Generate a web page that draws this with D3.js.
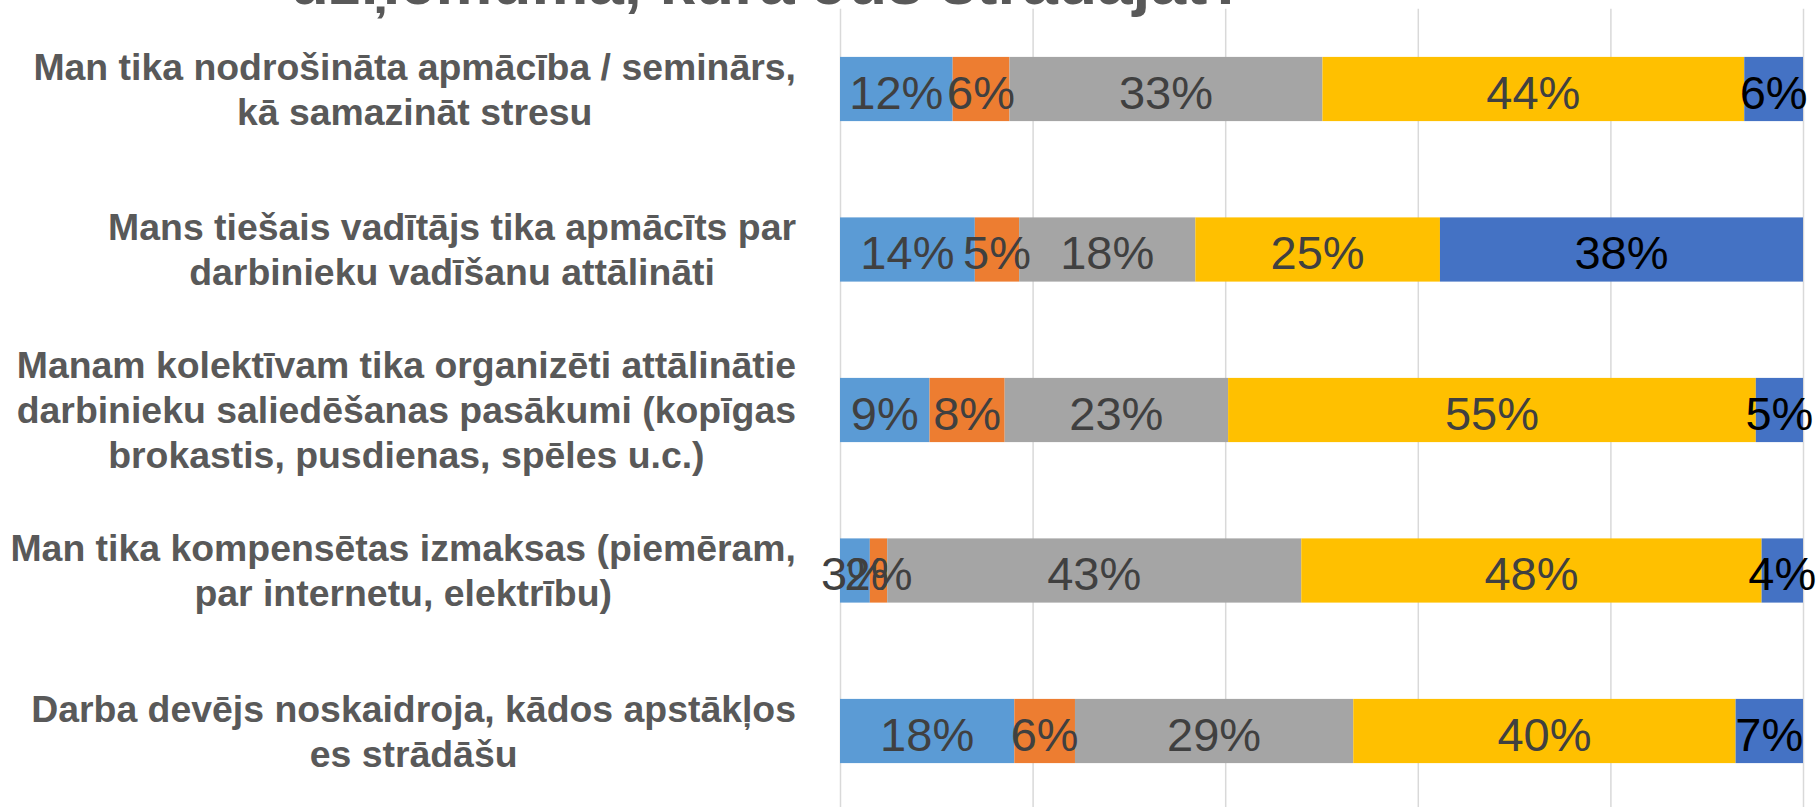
<!DOCTYPE html>
<html>
<head>
<meta charset="utf-8">
<script src="https://cdn.jsdelivr.net/npm/d3@7"></script>
<style>
  body { margin: 0; background: #fff; }
  svg { display: block; font-family: "Liberation Sans", Arial, sans-serif; }
</style>
</head>
<body>
<svg width="1820" height="807"></svg>
<script>

var categories = [
  ["Man tika nodrošināta apmācība / seminārs,", "kā samazināt stresu"],
  ["Mans tiešais vadītājs tika apmācīts par", "darbinieku vadīšanu attālināti"],
  ["Manam kolektīvam tika organizēti attālinātie", "darbinieku saliedēšanas pasākumi (kopīgas", "brokastis, pusdienas, spēles u.c.)"],
  ["Man tika kompensētas izmaksas (piemēram,", "par internetu, elektrību)"],
  ["Darba devējs noskaidroja, kādos apstākļos", "es strādāšu"]
];

var seriesKeys = ["s1", "s2", "s3", "s4", "s5"];
var seriesColors = ["#5b9bd5", "#ed7d31", "#a5a5a5", "#ffc000", "#4472c4"];
var labelColors = ["#404040", "#404040", "#404040", "#404040", "#000000"];

// percent per category, one array per series
var s1 = [11.7, 14.0, 9.3, 3.1, 18.1];
var s2 = [5.9, 4.6, 7.8, 1.8, 6.3];
var s3 = [32.5, 18.3, 23.2, 43.0, 28.9];
var s4 = [43.8, 25.4, 54.8, 47.8, 39.7];
var s5 = [6.1, 37.7, 4.9, 4.3, 7.0];

var xTicks = [0, 20, 40, 60, 80, 100];
var titleText = "uzņēmumā, kurā Jūs strādājat?";

var svg = d3.select("svg"),
    plot = {left: 840, right: 1803, top: 8.75, bottom: 811.25};

var data = categories.map(function(c, i) {
  return {i: i, s1: s1[i], s2: s2[i], s3: s3[i], s4: s4[i], s5: s5[i]};
});

var stacked = d3.stack().keys(seriesKeys)(data);

var x = d3.scaleLinear().domain([0, 100]).range([plot.left, plot.right]);

var y = d3.scaleBand()
    .domain(d3.range(categories.length))
    .range([plot.top, plot.bottom])
    .paddingInner(0.6)
    .paddingOuter(0.3);

// gridlines
svg.append("g")
    .attr("transform", "translate(0," + plot.bottom + ")")
    .call(d3.axisBottom(x).tickValues(xTicks).tickSize(-(plot.bottom - plot.top)).tickFormat(""))
    .call(function(g) { g.select(".domain").remove(); })
    .selectAll("line")
    .attr("stroke", "#d9d9d9")
    .attr("stroke-width", 1.5);

// title (mostly cropped above the frame)
svg.append("text")
    .attr("x", 768)
    .attr("y", 4)
    .attr("text-anchor", "middle")
    .attr("fill", "#595959")
    .style("font-weight", "bold")
    .style("font-size", "64px")
    .text(titleText);

// bars
var layer = svg.append("g").selectAll("g")
  .data(stacked)
  .enter().append("g")
    .attr("fill", function(d, k) { return seriesColors[k]; });

layer.selectAll("rect")
  .data(function(d) { return d; })
  .enter().append("rect")
    .attr("x", function(d) { return x(d[0]); })
    .attr("y", function(d) { return y(d.data.i); })
    .attr("width", function(d) { return x(d[1]) - x(d[0]); })
    .attr("height", y.bandwidth());

// value labels
var labelLayer = svg.append("g").selectAll("g")
  .data(stacked)
  .enter().append("g")
    .attr("fill", function(d, k) { return labelColors[k]; });

labelLayer.selectAll("text")
  .data(function(d) { return d; })
  .enter().append("text")
    .attr("x", function(d) { return (x(d[0]) + x(d[1])) / 2; })
    .attr("y", function(d) { return y(d.data.i) + y.bandwidth() / 2; })
    .attr("dy", "0.42em")
    .attr("text-anchor", "middle")
    .style("font-size", "47px")
    .text(function(d) { return Math.round(d[1] - d[0]) + "%"; });

// category labels, lines centred on each other, block right-aligned to axis
var lineH = 45, gap = 44;
var cat = svg.append("g")
    .attr("fill", "#595959")
    .style("font-weight", "bold")
    .style("font-size", "37.4px");

categories.forEach(function(lines, i) {
  var t = cat.append("text").attr("text-anchor", "middle");
  var cy = y(i) + y.bandwidth() / 2;
  lines.forEach(function(line, j) {
    t.append("tspan")
      .attr("x", 0)
      .attr("y", cy + (j - (lines.length - 1) / 2) * lineH)
      .attr("dy", "0.36em")
      .text(line);
  });
  var w = t.node().getBBox().width;
  t.selectAll("tspan").attr("x", plot.left - gap - w / 2);
});

</script>
</body>
</html>
